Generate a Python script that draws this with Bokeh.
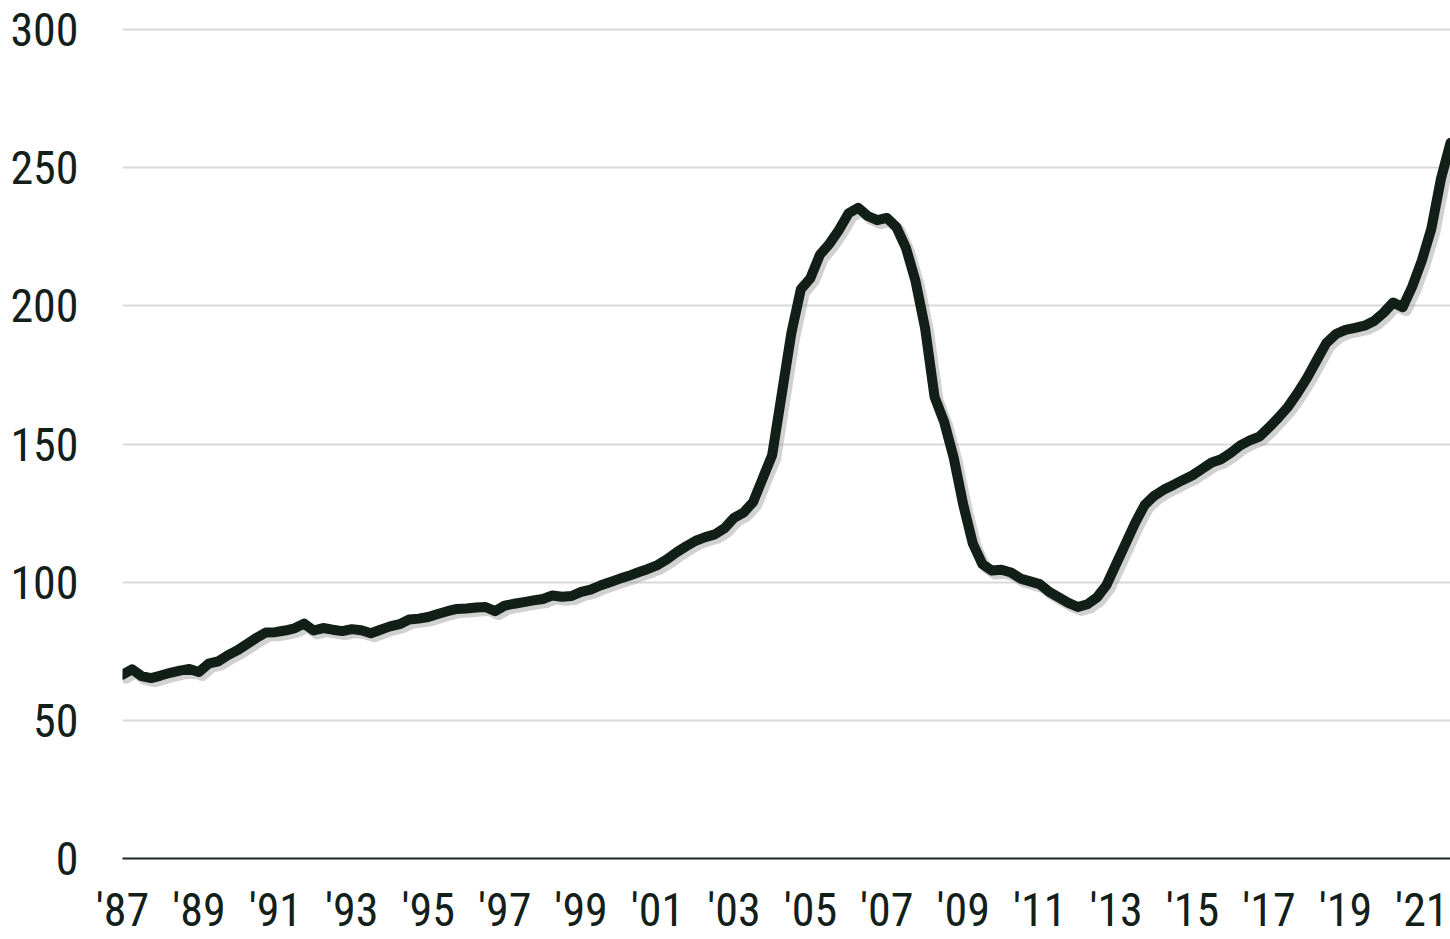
from bokeh.plotting import figure
from bokeh.models import Range1d, FixedTicker, ColumnDataSource
from bokeh.embed import file_html
from bokeh.resources import INLINE

# ---- data (quarterly index values, Q1 1987 .. Q4 2021) ----
start_year = 1987
index_values = [
    66.5, 68.5, 66.0, 65.3,      # 1987
    66.2, 67.2, 68.0, 68.6,      # 1988
    67.5, 70.5, 71.3, 73.5,      # 1989
    75.3, 77.5, 79.8, 81.8,      # 1990
    81.9, 82.5, 83.3, 85.0,      # 1991
    82.5, 83.4, 82.8, 82.3,      # 1992
    83.0, 82.6, 81.5, 82.8,      # 1993
    84.0, 84.8, 86.5, 86.8,      # 1994
    87.4, 88.5, 89.5, 90.3,      # 1995
    90.5, 90.8, 91.0, 89.5,      # 1996
    91.5, 92.2, 92.8, 93.4,      # 1997
    93.9, 95.2, 94.7, 95.0,      # 1998
    96.5, 97.3, 98.8, 100.0,     # 1999
    101.2, 102.3, 103.6, 104.8,  # 2000
    106.2, 108.3, 110.8, 113.0,  # 2001
    115.0, 116.3, 117.3, 119.5,  # 2002
    123.3, 125.2, 129.0, 137.5,  # 2003
    146.0, 168.0, 190.0, 206.0,  # 2004
    210.0, 218.5, 222.5, 227.5,  # 2005
    233.5, 235.5, 232.5, 231.0,  # 2006
    231.8, 228.5, 221.0, 209.0,  # 2007
    192.0, 167.0, 158.0, 145.0,  # 2008
    128.0, 114.0, 106.5, 104.2,  # 2009
    104.5, 103.5, 101.3, 100.3,  # 2010
    99.3, 96.5, 94.5, 92.5,      # 2011
    91.0, 92.0, 94.5, 99.0,      # 2012
    106.5, 114.0, 121.5, 128.0,  # 2013
    131.3, 133.5, 135.2, 137.0,  # 2014
    138.7, 141.0, 143.3, 144.5,  # 2015
    146.8, 149.5, 151.3, 152.7,  # 2016
    156.0, 159.6, 163.5, 168.5,  # 2017
    174.0, 180.3, 186.5, 189.8,  # 2018
    191.3, 192.0, 192.8, 194.5,  # 2019
    197.5, 201.2, 199.5, 207.0,  # 2020
    216.4, 228.0, 246.0, 259.0,  # 2021
]
tick_years = list(range(1987, 2022, 2))
tick_labels = ["'87", "'89", "'91", "'93", "'95", "'97", "'99", "'01", "'03",
               "'05", "'07", "'09", "'11", "'13", "'15", "'17", "'19", "'21"]
y_ticks = [0, 50, 100, 150, 200, 250, 300]

x_vals = [start_year + i / 4 for i in range(len(index_values))]
src = ColumnDataSource(dict(x=x_vals, y=index_values))

FONT = "'Roboto Condensed', 'Archivo Narrow', sans-serif"
TEXT_COLOR = "#13201a"
LINE_COLOR = "#111f18"

W, H = 1450, 939
B_LEFT, B_TOP, B_BOTTOM = 122, 27, 81
frame_w = W - B_LEFT
frame_h = H - B_TOP - B_BOTTOM
px_per_y = 829 / 300.0                       # 0..300 spans 829 px
x0, x1 = 1987.0, 2021.75
y0 = 0.0
y1 = frame_h / px_per_y                      # a little headroom so the 300 grid line shows

p = figure(width=W, height=H, output_backend="svg", toolbar_location=None,
           x_range=Range1d(x0, x1), y_range=Range1d(y0, y1),
           min_border_left=B_LEFT, min_border_right=0, min_border_top=B_TOP,
           min_border_bottom=B_BOTTOM)
p.outline_line_color = None
p.background_fill_color = "white"
p.border_fill_color = "white"

# grid
p.xgrid.visible = False
p.ygrid.ticker = FixedTicker(ticks=y_ticks)
p.ygrid.grid_line_color = "#d9d9d9"
p.ygrid.grid_line_width = 2

# soft shadow: same series on slightly shifted ranges (~3.5 px right and down)
px_per_x = frame_w / (x1 - x0)
dx = 3.5 / px_per_x
dy = 3.5 / px_per_y
p.extra_x_ranges = {"sh": Range1d(x0 - dx, x1 - dx)}
p.extra_y_ranges = {"sh": Range1d(y0 + dy, y1 + dy)}
p.line("x", "y", source=src, x_range_name="sh", y_range_name="sh",
       line_color="#9a9a9a", line_alpha=0.45, line_width=11,
       line_join="round", line_cap="round")

p.line("x", "y", source=src, line_color=LINE_COLOR, line_width=10,
       line_join="round", line_cap="round")

# x axis
xa = p.xaxis[0]
xa.ticker = FixedTicker(ticks=tick_years)
xa.major_label_overrides = {yr: lab for yr, lab in zip(tick_years, tick_labels)}
xa.axis_line_color = "#1a2620"
xa.axis_line_width = 2
xa.major_tick_line_color = None
xa.minor_tick_line_color = None
xa.major_tick_out = 0
xa.major_tick_in = 0
xa.major_label_standoff = 24
xa.major_label_text_font = FONT
xa.major_label_text_font_size = "46px"
xa.major_label_text_color = TEXT_COLOR

# y axis
ya = p.yaxis[0]
ya.ticker = FixedTicker(ticks=y_ticks)
ya.axis_line_color = None
ya.major_tick_line_color = None
ya.minor_tick_line_color = None
ya.major_tick_out = 0
ya.major_tick_in = 0
ya.major_label_standoff = 44
ya.major_label_text_font = FONT
ya.major_label_text_font_size = "46px"
ya.major_label_text_color = TEXT_COLOR

open("out.html", "w").write(file_html(p, INLINE))
